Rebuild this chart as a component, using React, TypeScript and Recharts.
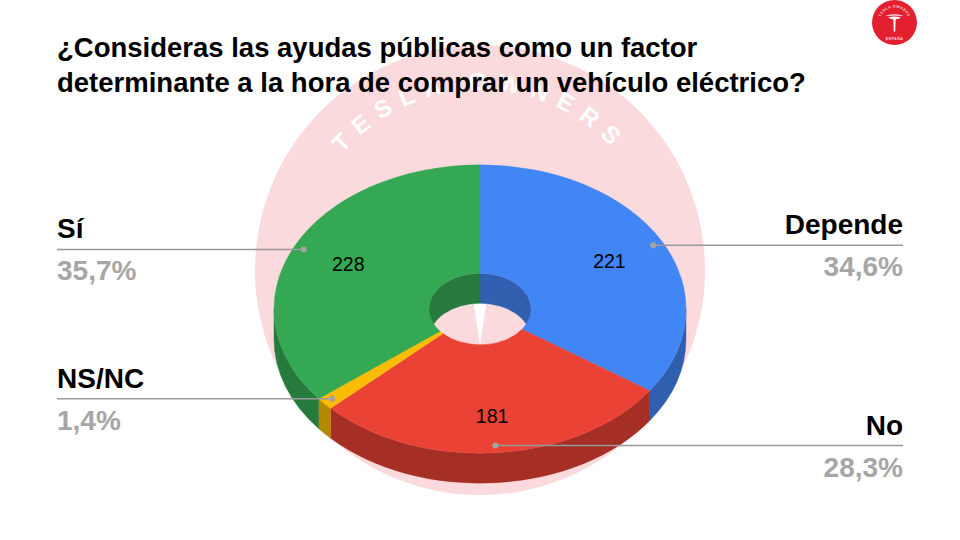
import React from "react";
import { PieChart, Pie } from "recharts";

const categories = ["Depende", "No", "NS/NC", "Sí"];
const values = [221, 181, 9, 228];
const percentLabels = ["34,6%", "28,3%", "1,4%", "35,7%"];
const valueLabels = ["221", "181", "", "228"];
const topColors = ["#4285f4", "#ea4335", "#fbbc04", "#34a853"];
const wallColors = ["#2f5fae", "#a52f25", "#b58a03", "#277a3d"];

const rows = categories.map((name, i) => ({ name, value: values[i] }));

const W = 960, H = 540;
const CX = 480, CY = 309, RX = 206, HOLE = 51, SQUASH = 0.7, DEPTH = 30;
const LEFT = 57, RIGHT = 903;
const FONT = '"Liberation Sans", Arial, sans-serif';
const valueRadius = [0.71, 0.745, 0, 0.71];
const labelSide: ("left" | "right")[] = ["right", "right", "left", "left"];

const pt = (cx: number, cy: number, r: number, deg: number, dz = 0) => {
  const a = (deg * Math.PI) / 180;
  return [cx + r * Math.cos(a), cy - r * SQUASH * Math.sin(a) + dz];
};
const arc = (r: number, from: number, to: number, cx: number, cy: number, dz = 0) => {
  const [x, y] = pt(cx, cy, r, to, dz);
  const large = Math.abs(from - to) > 180 ? 1 : 0;
  const sweep = to < from ? 1 : 0;
  return `A ${r} ${r * SQUASH} 0 ${large} ${sweep} ${x} ${y}`;
};

const band = (cx: number, cy: number, r: number, a: number, b: number) => {
  const [x0, y0] = pt(cx, cy, r, a);
  const [x1, y1] = pt(cx, cy, r, b, DEPTH);
  return `M ${x0} ${y0} ${arc(r, a, b, cx, cy)} L ${x1} ${y1} ${arc(r, b, a, cx, cy, DEPTH)} Z`;
};

const WallShape = (p: any) => {
  const { cx, cy, innerRadius, outerRadius, startAngle, endAngle, index } = p;
  const s = Math.max(startAngle, endAngle), e = Math.min(startAngle, endAngle);
  const fill = wallColors[index];
  const paths: string[] = [];
  const clip = (hi: number, lo: number, r: number) => {
    const a = Math.min(s, hi), b = Math.max(e, lo);
    if (a > b) paths.push(band(cx, cy, r, a, b));
  };
  clip(90, 0, innerRadius);
  clip(-180, -270, innerRadius);
  clip(0, -180, outerRadius);
  return <g>{paths.map((d, i) => <path key={i} d={d} fill={fill} stroke={fill} strokeWidth={0.4} />)}</g>;
};

const TopShape = (p: any) => {
  const { cx, cy, innerRadius, outerRadius, startAngle, endAngle, index } = p;
  const [x0, y0] = pt(cx, cy, outerRadius, startAngle);
  const [x1, y1] = pt(cx, cy, innerRadius, endAngle);
  const d = `M ${x0} ${y0} ${arc(outerRadius, startAngle, endAngle, cx, cy)} L ${x1} ${y1} ${arc(innerRadius, endAngle, startAngle, cx, cy)} Z`;
  const fill = topColors[index];
  return <path d={d} fill={fill} stroke={fill} strokeWidth={0.4} />;
};

const renderLabel = (p: any) => {
  const { cx, cy, outerRadius, midAngle, index } = p;
  const [dx, dy] = pt(cx, cy, outerRadius * 0.95, midAngle);
  const [vx, vy] = pt(cx, cy, outerRadius * valueRadius[index], midAngle);
  const right = labelSide[index] === "right";
  const ex = right ? RIGHT : LEFT;
  const anchor = right ? "end" : "start";
  return (
    <g key={index}>
      <line x1={dx} y1={dy} x2={ex} y2={dy} stroke="#999999" strokeWidth={1.5} />
      <circle cx={dx} cy={dy} r={3} fill="#a3a3a3" />
      {valueLabels[index] && (
        <text x={vx} y={vy} textAnchor="middle" dominantBaseline="central" fontFamily={FONT} fontSize={19.5} fill="#000">
          {valueLabels[index]}
        </text>
      )}
      <text x={ex} y={dy - 11} textAnchor={anchor} fontFamily={FONT} fontWeight="bold" fontSize={28} fill="#000">
        {categories[index]}
      </text>
      <text x={ex} y={dy + 31} textAnchor={anchor} fontFamily={FONT} fontWeight="bold" fontSize={28} fill="#a6a6a6">
        {percentLabels[index]}
      </text>
    </g>
  );
};

const Backdrop = () => (
  <svg width={W} height={H} style={{ position: "absolute", left: 0, top: 0 }}>
    <defs>
      <path id="wmArc" d="M 300 270 A 180 180 0 0 1 660 270" />
      <path id="logoTop" d="M 880 22 A 14.5 14.5 0 0 1 909 22" />
      <path id="logoBottom" d="M 876 22 A 18.5 18.5 0 0 0 913 22" />
    </defs>
    <circle cx={480} cy={270} r={225} fill="#fadadd" />
    <text fontFamily={FONT} fontWeight="bold" fontSize={24} fill="#ffffff" letterSpacing={10}>
      <textPath href="#wmArc" startOffset="50%" textAnchor="middle">TESLA OWNERS</textPath>
    </text>
    <polygon points="472.5,296 487.5,296 480,345" fill="#ffffff" />
    <circle cx={894.5} cy={22.5} r={22.5} fill="#e3202f" />
    <path d="M 885 16 Q 894.5 12.5 904 16 Q 894.5 14.8 885 16 Z M 888 17.5 Q 894.5 15.5 901 17.5 L 898 19 Q 896 18.6 895.6 20 L 895.3 31 L 894.5 32 L 893.7 31 L 893.4 20 Q 893 18.6 891 19 Z" fill="#ffffff" />
    <text fontFamily={FONT} fontWeight="bold" fontSize={3.6} fill="#ffd9dc" letterSpacing={0.5}>
      <textPath href="#logoTop" startOffset="50%" textAnchor="middle">TESLA OWNERS</textPath>
    </text>
    <text x={894.5} y={40} textAnchor="middle" fontFamily={FONT} fontWeight="bold" fontSize={3.6} fill="#ffd9dc" letterSpacing={0.5}>ESPAÑA</text>
  </svg>
);

const Title = () => (
  <svg width={W} height={H} style={{ position: "absolute", left: 0, top: 0, pointerEvents: "none" }}>
    <text x={57} y={57} fontFamily={FONT} fontWeight="bold" fontSize={27.5} fill="#000">
      ¿Consideras las ayudas públicas como un factor
    </text>
    <text x={57} y={92} fontFamily={FONT} fontWeight="bold" fontSize={27.5} fill="#000">
      determinante a la hora de comprar un vehículo eléctrico?
    </text>
  </svg>
);

export default function App() {
  return (
    <div style={{ position: "absolute", left: 0, top: 0, width: W, height: H, background: "#ffffff", overflow: "hidden" }}>
      <Backdrop />
      <div style={{ position: "absolute", left: 0, top: 0 }}>
        <PieChart width={W} height={H} margin={{ top: 0, right: 0, bottom: 0, left: 0 }}>
          <Pie
            data={rows}
            dataKey="value"
            nameKey="name"
            cx={CX}
            cy={CY}
            innerRadius={HOLE}
            outerRadius={RX}
            startAngle={90}
            endAngle={-270}
            stroke="none"
            shape={WallShape}
            isAnimationActive={false}
          />
          <Pie
            data={rows}
            dataKey="value"
            nameKey="name"
            cx={CX}
            cy={CY}
            innerRadius={HOLE}
            outerRadius={RX}
            startAngle={90}
            endAngle={-270}
            stroke="none"
            shape={TopShape}
            label={renderLabel}
            labelLine={false}
            isAnimationActive={false}
          />
        </PieChart>
      </div>
      <Title />
    </div>
  );
}
